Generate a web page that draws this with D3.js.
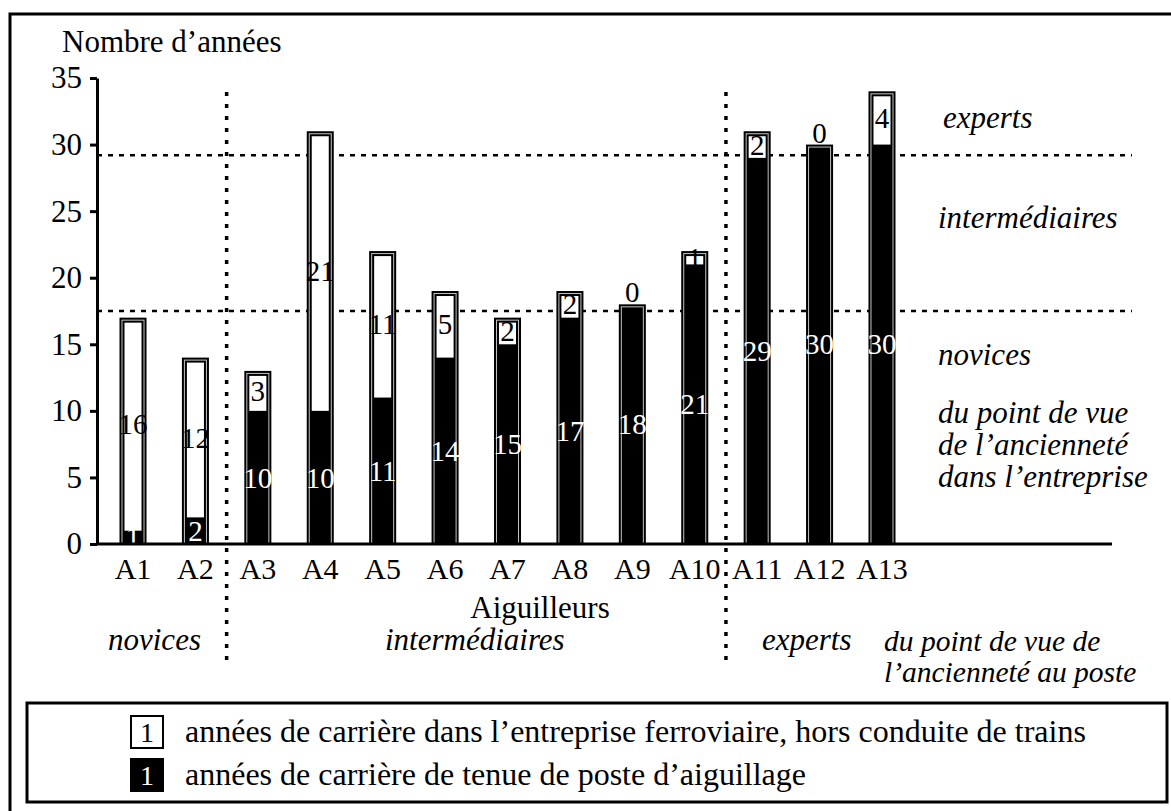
<!DOCTYPE html>
<html>
<head>
<meta charset="utf-8">
<script src="https://cdn.jsdelivr.net/npm/d3@7"></script>
<style>
  html, body { margin: 0; padding: 0; background: #fff; }
  svg { display: block; }
  text { font-family: "Liberation Serif", "Times New Roman", serif; fill: #000; }
</style>
</head>
<body>
<script>
// ---- data ----
const categories = ["A1","A2","A3","A4","A5","A6","A7","A8","A9","A10","A11","A12","A13"];
const poste      = [1, 2, 10, 10, 11, 14, 15, 17, 18, 21, 29, 30, 30];   // années de tenue de poste (noir)
const entreprise = [16, 12, 3, 21, 11, 5, 2, 2, 0, 1, 2, 0, 4];          // années dans l'entreprise hors conduite (blanc)
const yTicks     = [0, 5, 10, 15, 20, 25, 30, 35];
const thresholds = [17.5, 29.2];               // seuils novices / intermédiaires / experts (ancienneté entreprise)
const separators = [["A2","A3"], ["A10","A11"]]; // seuils ancienneté au poste
const rightLabels = ["experts", "intermédiaires", "novices"];
const rightNote   = ["du point de vue", "de l’ancienneté", "dans l’entreprise"];
const bottomLabels = ["novices", "intermédiaires", "experts"];
const bottomNote   = ["du point de vue de", "l’ancienneté au poste"];
const legendItems  = ["années de carrière dans l’entreprise ferroviaire, hors conduite de trains",
                      "années de carrière de tenue de poste d’aiguillage"];

const W = 1171, H = 811;
const FONT = '"Liberation Serif", "Times New Roman", serif';
const svg = d3.select("body").append("svg").attr("width", W).attr("height", H);

// outer frame (cropped at right & bottom)
svg.append("rect").attr("x", 10).attr("y", 14).attr("width", 1300).attr("height", 1000)
  .attr("fill", "none").attr("stroke", "#000").attr("stroke-width", 3);

const y = d3.scaleLinear().domain([0, 35]).range([544, 78]);
const x = d3.scaleBand().domain(categories).range([101.8, 913.2])
  .paddingInner(0.567).paddingOuter(0.2835);
const axisX0 = 97, axisX1 = 1112;

// y axis
const yAxis = svg.append("g").attr("transform", `translate(${axisX0},0)`)
  .call(d3.axisLeft(y).tickValues(yTicks).tickSize(7).tickSizeOuter(0).tickPadding(8));
yAxis.attr("font-family", FONT);
yAxis.select(".domain").attr("stroke-width", 3);
yAxis.selectAll(".tick line").attr("stroke-width", 3);
yAxis.selectAll(".tick text").style("font-size", "31px").style("font-family", FONT);

// threshold dotted lines
svg.selectAll("line.thr").data(thresholds).enter().append("line")
  .attr("x1", axisX0).attr("x2", 1132)
  .attr("y1", d => y(d)).attr("y2", d => y(d))
  .attr("stroke", "#000").attr("stroke-width", 2.5).attr("stroke-dasharray", "5,6");

// separators
svg.selectAll("line.sep").data(separators).enter().append("line")
  .attr("x1", d => (x(d[0]) + x(d[1]) + x.bandwidth()) / 2)
  .attr("x2", d => (x(d[0]) + x(d[1]) + x.bandwidth()) / 2)
  .attr("y1", 92).attr("y2", 660)
  .attr("stroke", "#000").attr("stroke-width", 3.5).attr("stroke-dasharray", "4,8");

// bars
const bw = x.bandwidth();
categories.forEach((c, i) => {
  const x0 = x(c);
  const tot = poste[i] + entreprise[i];
  const yTop = y(tot), yMid = y(poste[i]), yBot = y(0);
  svg.append("rect").attr("x", x0).attr("y", yTop).attr("width", bw).attr("height", yBot - yTop).attr("fill", "#000");
  if (entreprise[i] > 0) {
    svg.append("rect").attr("x", x0 + 5).attr("y", yTop + 5).attr("width", bw - 10)
      .attr("height", Math.max(0, yMid - yTop - 5)).attr("fill", "#fff");
  }
  svg.append("rect").attr("x", x0 + 2.5).attr("y", yTop + 2.5).attr("width", bw - 5).attr("height", yBot - yTop - 2.5)
    .attr("fill", "none").attr("stroke", "#c4c4c4").attr("stroke-width", 1);
});

// bar labels
const cx = c => x(c) + bw / 2;
categories.forEach((c, i) => {
  svg.append("text").attr("x", cx(c)).attr("y", y(poste[i] / 2)).attr("dy", "0.35em")
    .attr("text-anchor", "middle").style("font-size", "29px").style("fill", "#fff").text(poste[i]);
  const tot = poste[i] + entreprise[i];
  const ly = entreprise[i] > 0 ? y(poste[i] + entreprise[i] / 2) : y(tot) - 12;
  svg.append("text").attr("x", cx(c)).attr("y", ly).attr("dy", "0.35em")
    .attr("text-anchor", "middle").style("font-size", "29px").text(entreprise[i]);
});

// x axis line and labels
svg.append("line").attr("x1", axisX0).attr("x2", axisX1).attr("y1", y(0)).attr("y2", y(0))
  .attr("stroke", "#000").attr("stroke-width", 3);
svg.selectAll("text.xl").data(categories).enter().append("text")
  .attr("x", d => cx(d)).attr("y", 579).attr("text-anchor", "middle")
  .style("font-size", "30px").text(d => d);

// titles
svg.append("text").attr("x", 62).attr("y", 52).style("font-size", "31px").text("Nombre d’années");
svg.append("text").attr("x", 540).attr("y", 618).attr("text-anchor", "middle").style("font-size", "31px").text("Aiguilleurs");

// right-side labels
const rightY = [128, 228, 365];
const rightX = [943, 938, 938];
rightLabels.forEach((t, i) => {
  svg.append("text").attr("x", rightX[i]).attr("y", rightY[i]).style("font-size", "31px").style("font-style", "italic").text(t);
});
rightNote.forEach((t, i) => {
  svg.append("text").attr("x", 938).attr("y", 423 + i * 32).style("font-size", "31px").style("font-style", "italic").text(t);
});

// bottom labels
const bottomX = [108, 385, 762];
bottomLabels.forEach((t, i) => {
  svg.append("text").attr("x", bottomX[i]).attr("y", 650).style("font-size", "31px").style("font-style", "italic").text(t);
});
bottomNote.forEach((t, i) => {
  svg.append("text").attr("x", 884).attr("y", 651 + i * 31).style("font-size", "29.5px").style("font-style", "italic").text(t);
});

// legend
svg.append("rect").attr("x", 27).attr("y", 703).attr("width", 1140).attr("height", 99)
  .attr("fill", "none").attr("stroke", "#000").attr("stroke-width", 3);
const legY = [716, 759];
legendItems.forEach((t, i) => {
  svg.append("rect").attr("x", 131).attr("y", legY[i]).attr("width", 32).attr("height", 32)
    .attr("fill", i === 0 ? "#fff" : "#000").attr("stroke", "#000").attr("stroke-width", 2);
  svg.append("text").attr("x", 147).attr("y", legY[i] + 16).attr("dy", "0.35em").attr("text-anchor", "middle")
    .style("font-size", "28px").style("fill", i === 0 ? "#000" : "#fff").text("1");
  svg.append("text").attr("x", 185).attr("y", legY[i] + 26).style("font-size", "32px").text(t);
});
</script>
</body>
</html>
